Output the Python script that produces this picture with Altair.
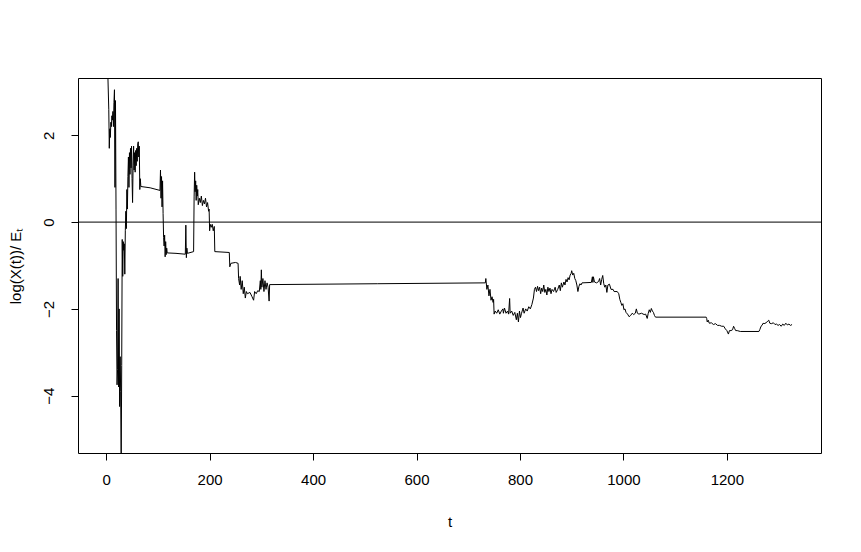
import altair as alt
import pandas as pd

# time index and value log(X(t))/E_t
T = [1, 3, 5, 6, 7, 8, 9, 10, 11, 12, 13, 14, 15, 16, 17, 18, 19, 20, 21, 22, 23, 24, 25, 26, 27, 28, 29, 30,
     31, 32, 33, 34, 35, 36, 37, 38, 39, 40, 41, 42, 43, 44, 45, 46, 47, 48, 49, 50, 51, 52, 53, 54, 55, 56,
     57, 58, 59, 60, 61, 62, 63, 64, 65, 66, 67, 85, 104, 105, 106, 107, 108, 109, 110, 111, 112, 113, 114,
     115, 116, 117, 118, 135, 153, 154, 155, 156, 157, 169, 170, 171, 172, 173, 174, 175, 176, 177, 178, 180,
     182, 184, 186, 188, 190, 192, 194, 196, 198, 199, 200, 201, 203, 205, 207, 209, 210, 238, 239, 241, 250,
     255, 256, 258, 259, 261, 263, 265, 267, 269, 271, 273, 278, 282, 285, 287, 290, 293, 296, 298, 299, 300,
     301, 303, 305, 307, 309, 311, 313, 315, 316, 525, 733, 734, 736, 738, 740, 742, 744, 746, 748, 749, 750,
     752, 755, 758, 761, 764, 767, 768, 770, 773, 776, 778, 780, 781, 784, 787, 790, 793, 795, 797, 799, 801,
     803, 806, 808, 811, 814, 817, 820, 823, 826, 828, 830, 832, 834, 836, 838, 840, 842, 844, 846, 848, 850,
     852, 854, 856, 858, 860, 862, 865, 868, 870, 873, 876, 878, 880, 882, 885, 887, 889, 891, 893, 895, 897,
     899, 900, 902, 904, 906, 908, 910, 912, 914, 916, 918, 920, 938, 940, 941, 942, 944, 948, 952, 954, 956,
     958, 960, 962, 964, 966, 968, 970, 973, 976, 980, 982, 988, 991, 993, 995, 997, 999, 1001, 1003, 1005,
     1008, 1011, 1014, 1017, 1020, 1023, 1025, 1027, 1030, 1035, 1040, 1043, 1046, 1048, 1050, 1052, 1054,
     1056, 1058, 1060, 1062, 1160, 1161, 1162, 1164, 1166, 1170, 1174, 1178, 1182, 1186, 1190, 1194, 1197,
     1200, 1203, 1205, 1208, 1211, 1213, 1215, 1217, 1220, 1226, 1262, 1264, 1266, 1268, 1270, 1272, 1276,
     1279, 1281, 1283, 1286, 1290, 1293, 1296, 1299, 1302, 1305, 1308, 1311, 1314, 1317, 1320, 1323, 1326]

V = [3.8, 3.5, 2.6, 1.7, 2.15, 1.95, 2.3, 2.2, 2.45, 2.35, 2.55, 2.2, 2.75, 3.05, 0.8, 2.8, 0.3, -2.5, -3.75,
     -3.4, -1.3, -3.8, -2.0, -4.25, -3.1, -3.9, -5.6, -3.3,
     -0.4, -1.25, -0.45, -0.65, -0.5, -1.2, -0.2, 0.25, -0.15, 0.75, 0.3, 1.05, 1.5, 0.8, 1.6, 1.1, 1.7, 1.25,
     1.75, 1.0, 0.45, 1.3, 1.75, 1.2, 1.6, 1.15,
     1.65, 1.3, 1.7, 1.4, 1.8, 1.85, 1.5, 1.75, 0.75, 1.0, 0.82, 0.79, 0.73, 1.2, 0.55, 1.05, 0.35, 0.95, 0.2,
     -0.35, -0.55, -0.3, -0.8,
     -0.45, -0.75, -0.6, -0.71, -0.72, -0.74, -0.07, -0.82, -0.6, -0.72, -0.68, 0.58, 1.15, 0.7, 0.95, 0.5,
     0.85, 0.6, 0.75, 0.4, 0.55,
     0.45, 0.6, 0.38, 0.5, 0.42, 0.55, 0.35, 0.45, 0.25, 0.3, -0.2, -0.05, -0.12, -0.05, -0.2, -0.1, -0.68,
     -0.7, -1.03, -0.95, -0.93,
     -0.95, -1.3, -1.45, -1.25, -1.55, -1.35, -1.65, -1.5, -1.75, -1.6, -1.65, -1.62, -1.72, -1.8, -1.6, -1.65,
     -1.58, -1.6, -1.35, -1.55, -1.1,
     -1.5, -1.3, -1.6, -1.35, -1.55, -1.4, -1.5, -1.82, -1.44, -1.42, -1.4, -1.3, -1.55, -1.45, -1.7, -1.55,
     -1.8, -1.72, -1.85, -1.78, -2.12,
     -2.05, -2.1, -2.02, -2.12, -2.05, -2.0, -2.1, -1.98, -2.1, -2.05, -2.12, -1.76, -2.1, -2.05, -2.15, -2.08,
     -2.25, -2.1, -2.3, -2.05, -2.2,
     -2.1, -1.98, -2.1, -2.0, -2.05, -1.95, -2.0, -1.9, -1.75, -1.55, -1.5, -1.6, -1.48, -1.58, -1.5, -1.65,
     -1.52, -1.6, -1.45, -1.62, -1.55,
     -1.68, -1.5, -1.6, -1.52, -1.65, -1.55, -1.6, -1.5, -1.62, -1.55, -1.45, -1.58, -1.4, -1.5, -1.38, -1.45,
     -1.32, -1.38, -1.28, -1.33, -1.22,
     -1.18, -1.12, -1.22, -1.18, -1.3, -1.35, -1.45, -1.6, -1.48, -1.42, -1.45, -1.4, -1.39, -1.26, -1.39,
     -1.26, -1.38, -1.4, -1.37, -1.3, -1.45,
     -1.32, -1.23, -1.42, -1.5, -1.45, -1.62, -1.45, -1.43, -1.55, -1.55, -1.6, -1.6, -1.65, -1.78, -1.85,
     -1.92, -1.88, -2.02, -2.0, -2.08,
     -2.12, -2.18, -2.15, -2.1, -2.13, -2.1, -2.0, -2.1, -2.12, -2.1, -2.13, -2.12, -2.22, -2.1, -2.02, -2.08,
     -1.99,
     -2.05, -2.08, -2.15, -2.19, -2.19, -2.22, -2.3, -2.26, -2.33, -2.32, -2.36, -2.34, -2.38, -2.38, -2.4,
     -2.4, -2.46,
     -2.5, -2.58, -2.5, -2.5, -2.48, -2.4, -2.45, -2.5, -2.5, -2.52, -2.52, -2.47, -2.4, -2.38, -2.33, -2.34,
     -2.32,
     -2.28, -2.26, -2.33, -2.34, -2.32, -2.36, -2.35, -2.38, -2.36, -2.4, -2.35, -2.38, -2.33, -2.37, -2.35,
     -2.38, -2.36]

X_TICKS = [0, 200, 400, 600, 800, 1000, 1200]
Y_TICKS = [-4, -2, 0, 2]
X_DOMAIN = [-54.5, 1382.0]
Y_DOMAIN = [-5.32, 3.32]

df = pd.DataFrame({"t": T, "v": V})
zero = pd.DataFrame({"y": [0]})

FONT = "Liberation Sans"

x_axis = alt.Axis(values=X_TICKS, format="d", title="t", grid=False, domain=False,
                  tickSize=7, tickColor="black", labelPadding=12, labelFontSize=15,
                  labelColor="black", labelFont=FONT, titleFont=FONT, titleFontSize=15,
                  titleFontWeight="normal", titleColor="black", titlePadding=27,
                  labelFlush=False)
y_axis = alt.Axis(values=Y_TICKS, format="d", title="log(X(t))/ Eₜ", grid=False, domain=False,
                  tickSize=7, tickColor="black", labelPadding=15, labelFontSize=15,
                  labelAngle=270, labelAlign="center", labelBaseline="bottom",
                  labelColor="black", labelFont=FONT, titleFont=FONT, titleFontSize=15,
                  titleFontWeight="normal", titleColor="black", titlePadding=18,
                  labelFlush=False)

line = alt.Chart(df).mark_line(color="black", strokeWidth=1, clip=True).encode(
    x=alt.X("t:Q", scale=alt.Scale(domain=X_DOMAIN, nice=False, zero=False), axis=x_axis),
    y=alt.Y("v:Q", scale=alt.Scale(domain=Y_DOMAIN, nice=False, zero=False), axis=y_axis),
)
rule = alt.Chart(zero).mark_rule(color="black", strokeWidth=1).encode(y="y:Q")

chart = alt.layer(line, rule).properties(
    width=743, height=375,
    autosize=alt.AutoSizeParams(type="none"),
    padding={"left": 70, "top": 70, "right": 20, "bottom": 80},
    background="white",
).configure_view(stroke="black", strokeWidth=1)

chart.save("out.html", embed_options={"renderer": "svg", "actions": False})
